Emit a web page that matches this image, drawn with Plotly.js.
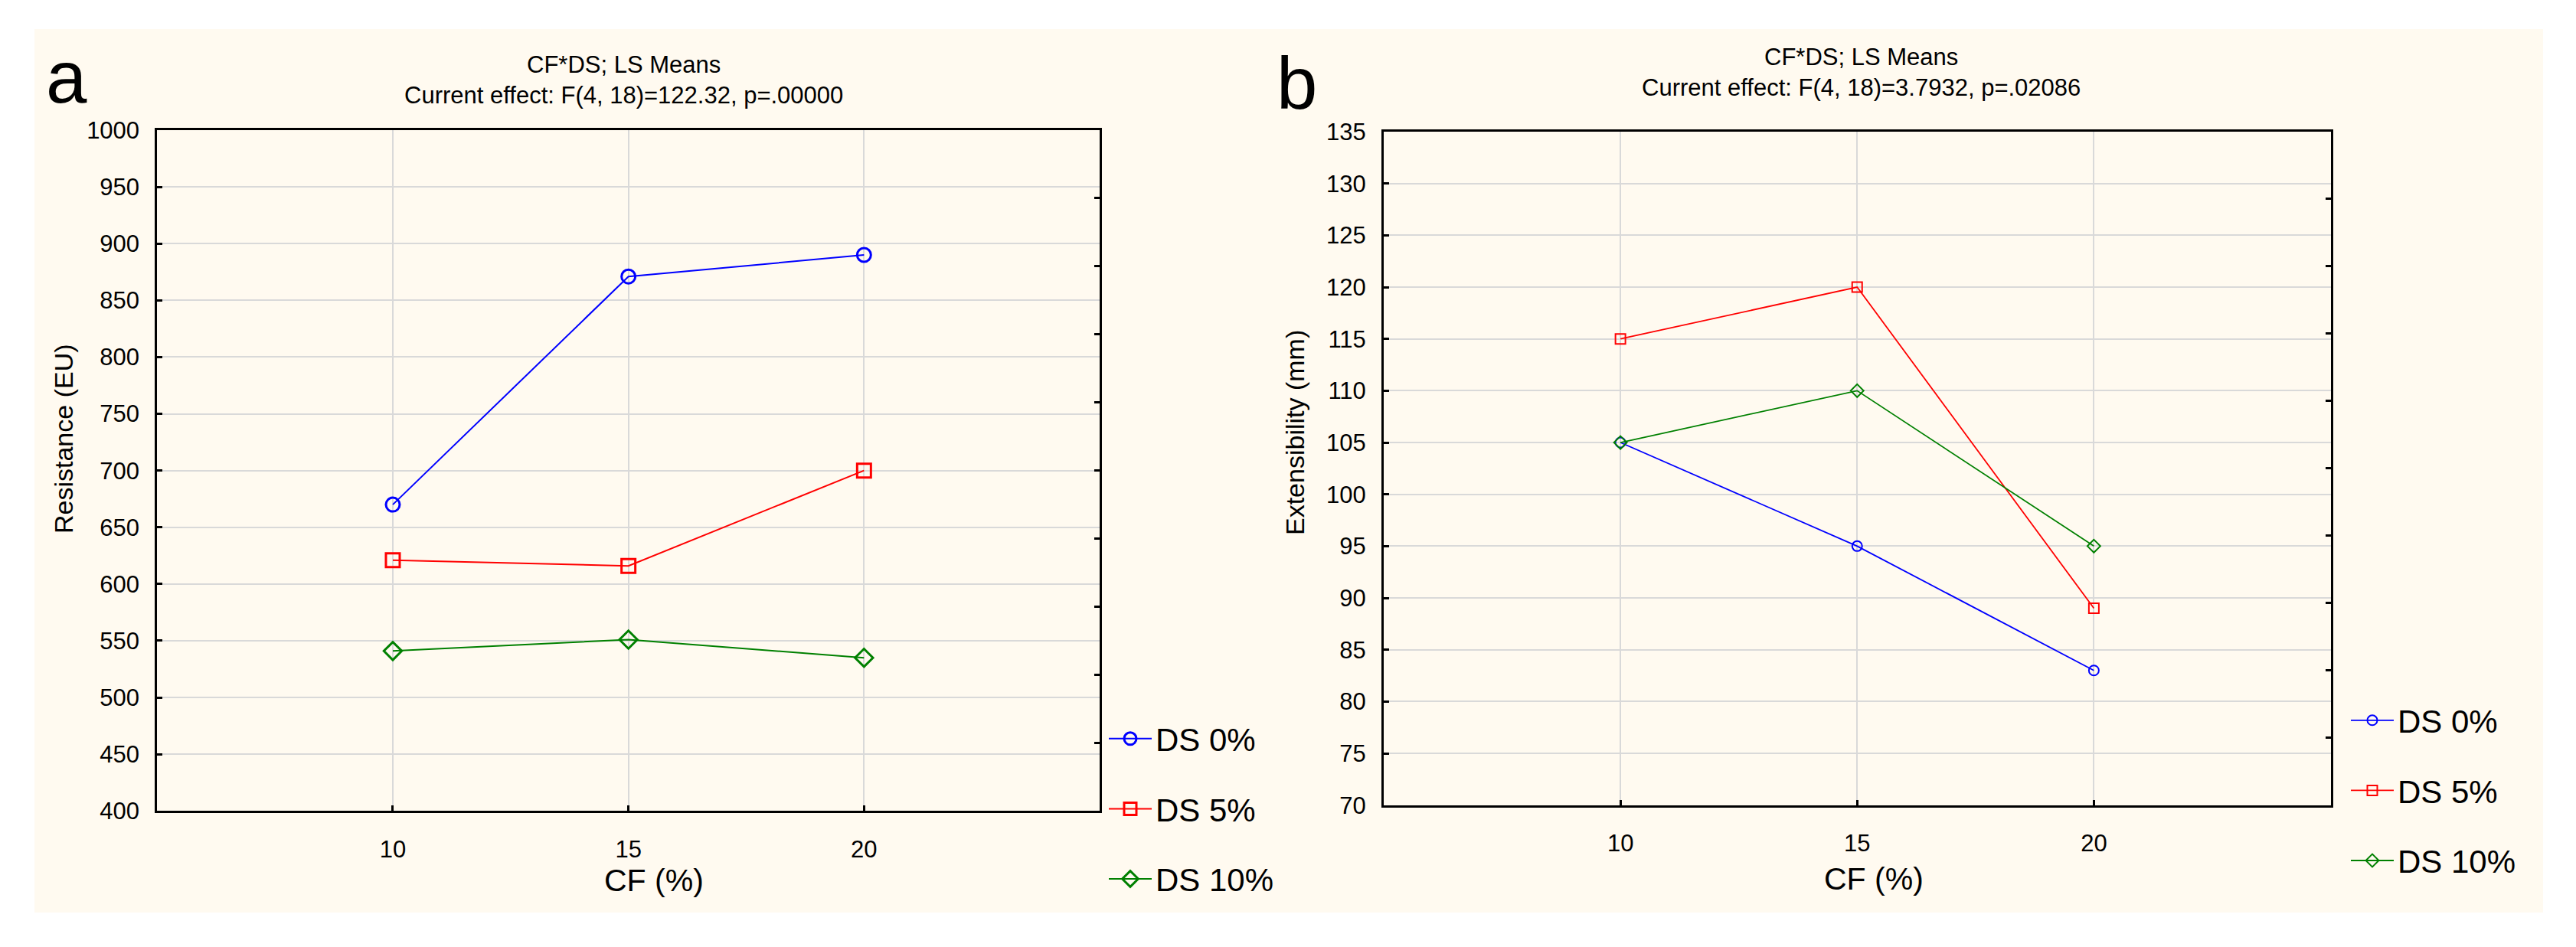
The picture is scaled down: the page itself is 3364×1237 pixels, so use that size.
<!DOCTYPE html>
<html>
<head>
<meta charset="utf-8">
<script src="https://cdn.plot.ly/plotly-3.0.1.min.js"></script>
<style>html,body{margin:0;padding:0;background:#fff;}#chart{width:3364px;height:1237px;}</style>
</head>
<body>
<div id="chart"></div>
<script>
// ---- data ----
const cfLevels = [10, 15, 20];
const seriesNames = ['DS 0%', 'DS 5%', 'DS 10%'];
const resistanceDS0 = [670, 871, 890];
const resistanceDS5 = [621, 616, 700];
const resistanceDS10 = [541, 551, 535];
const extensibilityDS0 = [105, 95, 83];
const extensibilityDS5 = [115, 120, 89];
const extensibilityDS10 = [105, 110, 95];
const titleA = 'CF*DS; LS Means<br>Current effect: F(4, 18)=122.32, p=.00000';
const titleB = 'CF*DS; LS Means<br>Current effect: F(4, 18)=3.7932, p=.02086';

// ---- style ----
const W = 3364, H = 1237;
const X = p => p / W;
const Y = p => 1 - p / H;
const FONT = 'Liberation Sans, Arial, sans-serif';
const colors = ['#0000ff', '#ff0000', '#008000'];
const symbols = ['circle-open', 'square-open', 'diamond-open'];

function mk(xv, yv, i, panel) {
  const a = panel === 'a';
  return {
    type: 'scatter', mode: 'lines+markers',
    x: xv, y: yv, name: seriesNames[i],
    xaxis: a ? 'x' : 'x2', yaxis: a ? 'y' : 'y2',
    legend: a ? 'legend' : 'legend2',
    legendgroup: panel + i,
    line: {color: colors[i], width: a ? 2 : 1.8},
    marker: {symbol: symbols[i], color: colors[i], size: a ? 18 : 13,
             line: {color: colors[i], width: a ? 3 : 2}},
    hoverinfo: 'x+y+name'
  };
}

const traces = [
  mk(cfLevels, resistanceDS0, 0, 'a'),
  mk(cfLevels, resistanceDS5, 1, 'a'),
  mk(cfLevels, resistanceDS10, 2, 'a'),
  mk(cfLevels, extensibilityDS0, 0, 'b'),
  mk(cfLevels, extensibilityDS5, 1, 'b'),
  mk(cfLevels, extensibilityDS10, 2, 'b'),
  {type: 'scatter', x: [], y: [], xaxis: 'x', yaxis: 'y3', showlegend: false, hoverinfo: 'skip'},
  {type: 'scatter', x: [], y: [], xaxis: 'x2', yaxis: 'y4', showlegend: false, hoverinfo: 'skip'}
];

const axCommon = {
  showline: true, linecolor: '#000', linewidth: 3, mirror: true,
  ticks: 'inside', ticklen: 7, tickwidth: 3, tickcolor: '#000',
  showgrid: true, gridcolor: '#d9d9d9', gridwidth: 2,
  zeroline: false, fixedrange: true,
  tickfont: {family: FONT, size: 31, color: '#000'}
};
const sideTicks = {
  side: 'right', range: [0, 10], dtick: 1, tick0: 0,
  ticks: 'inside', ticklen: 7, tickwidth: 3, tickcolor: '#000',
  showticklabels: false, showgrid: false, showline: false, zeroline: false, fixedrange: true
};

const legendCommon = {
  font: {family: FONT, size: 42, color: '#000'},
  bgcolor: 'rgba(0,0,0,0)', borderwidth: 0,
  tracegroupgap: 34, itemwidth: 56,
  xanchor: 'left', yanchor: 'top', itemclick: false, itemdoubleclick: false
};

const annFont = (s) => ({family: FONT, size: s, color: '#000'});
const ann = (text, x, y, size, extra) => Object.assign({
  text: text, xref: 'paper', yref: 'paper', x: X(x), y: Y(y),
  xanchor: 'center', yanchor: 'middle', showarrow: false, font: annFont(size)
}, extra || {});

const layout = {
  width: W, height: H,
  margin: {l: 0, r: 0, t: 0, b: 0, pad: 0},
  paper_bgcolor: '#ffffff', plot_bgcolor: '#ffffff',
  showlegend: true,
  xaxis: Object.assign({}, axCommon, {domain: [X(205.3), X(1436)], range: [5, 25],
    tickvals: cfLevels, anchor: 'y', ticklabelstandoff: 20}),
  yaxis: Object.assign({}, axCommon, {domain: [Y(1059.3), Y(170)], range: [400, 1000],
    dtick: 50, tick0: 400, anchor: 'x', ticklabelstandoff: 14}),
  yaxis3: Object.assign({}, sideTicks, {overlaying: 'y', anchor: 'x'}),
  xaxis2: Object.assign({}, axCommon, {domain: [X(1807), X(3043.5)], range: [5, 25],
    tickvals: cfLevels, anchor: 'y2', ticklabelstandoff: 20}),
  yaxis2: Object.assign({}, axCommon, {domain: [Y(1051.7), Y(172)], range: [70, 135],
    dtick: 5, tick0: 70, anchor: 'x2', ticklabelstandoff: 14}),
  yaxis4: Object.assign({}, sideTicks, {overlaying: 'y2', anchor: 'x2'}),
  legend: Object.assign({}, legendCommon, {x: X(1443), y: Y(931)}),
  legend2: Object.assign({}, legendCommon, {x: X(3065), y: Y(907)}),
  shapes: [{type: 'rect', xref: 'paper', yref: 'paper', x0: X(45), x1: X(3321),
    y0: Y(1192), y1: Y(38), fillcolor: '#FFFAF0', line: {width: 0}, layer: 'below'}],
  annotations: [
    ann(titleA, 814, 104, 31),
    ann(titleB, 2430, 94, 31),
    ann('Resistance (EU)', 83, 573, 34, {textangle: -90}),
    ann('Extensibility (mm)', 1691, 565, 34, {textangle: -90}),
    ann('CF (%)', 854, 1150, 41),
    ann('CF (%)', 2447, 1148, 41),
    ann('a', 87, 101, 96),
    ann('b', 1693, 108, 96)
  ]
};

Plotly.newPlot('chart', traces, layout, {displayModeBar: false, staticPlot: true});
</script>
</body>
</html>
